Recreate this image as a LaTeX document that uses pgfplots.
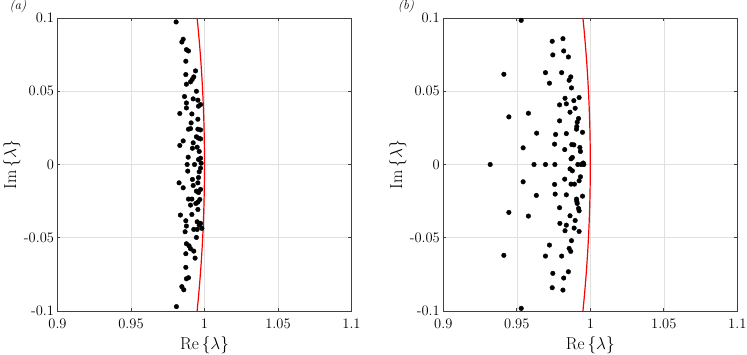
\documentclass[border=0pt]{standalone}
\usepackage{pgfplots}
\pgfplotsset{compat=1.18}

% eigenvalues, panel (a)
\pgfplotstableread{
re im
0.9807 0.0973
0.9855 0.0855
0.9846 0.0836
0.9877 0.0784
0.9891 0.0775
0.9873 0.0705
0.9939 0.0639
0.9873 0.0614
0.9927 0.0598
0.9916 0.0580
0.9905 0.0564
0.9877 0.0548
0.9945 0.0500
0.9864 0.0464
0.9923 0.0448
0.9955 0.0439
0.9877 0.0420
0.9973 0.0409
0.9959 0.0398
0.9877 0.0386
0.9832 0.0348
0.9914 0.0345
0.9955 0.0309
0.9909 0.0284
0.9905 0.0245
0.9891 0.0241
0.9955 0.0241
0.9973 0.0236
0.9945 0.0189
0.9959 0.0180
0.9973 0.0175
0.9855 0.0161
0.9832 0.0130
0.9923 0.0148
0.9918 0.0111
0.9950 0.0118
0.9964 0.0089
0.9889 0.0050
0.9973 0.0043
0.9959 0.0034
0.9977 0.0009
0.9882 0.0000
0.9932 0.0000
0.9973 -0.0025
0.9886 -0.0045
0.9964 -0.0050
0.9959 -0.0089
0.9918 -0.0102
0.9827 -0.0125
0.9855 -0.0159
0.9923 -0.0143
0.9955 -0.0125
0.9973 -0.0170
0.9945 -0.0182
0.9959 -0.0191
0.9891 -0.0236
0.9914 -0.0236
0.9968 -0.0239
0.9955 -0.0257
0.9905 -0.0277
0.9941 -0.0266
0.9955 -0.0307
0.9836 -0.0345
0.9914 -0.0341
0.9873 -0.0384
0.9950 -0.0391
0.9973 -0.0402
0.9964 -0.0414
0.9877 -0.0420
0.9982 -0.0436
0.9927 -0.0443
0.9868 -0.0459
0.9950 -0.0443
0.9945 -0.0498
0.9877 -0.0541
0.9895 -0.0555
0.9905 -0.0575
0.9927 -0.0591
0.9873 -0.0609
0.9936 -0.0639
0.9873 -0.0702
0.9877 -0.0780
0.9891 -0.0773
0.9846 -0.0834
0.9859 -0.0855
0.9809 -0.0970
}\eiga

% eigenvalues, panel (b)
\pgfplotstableread{
re im
0.9530 0.0984
0.9741 0.0841
0.9814 0.0859
0.9745 0.0748
0.9819 0.0775
0.9851 0.0734
0.9695 0.0627
0.9805 0.0627
0.9867 0.0598
0.9856 0.0575
0.9722 0.0555
0.9872 0.0523
0.9924 0.0457
0.9828 0.0452
0.9888 0.0436
0.9791 0.0407
0.9837 0.0414
0.9897 0.0384
0.9412 0.0616
0.9446 0.0325
0.9579 0.0350
0.9862 0.0357
0.9791 0.0298
0.9920 0.0314
0.9911 0.0289
0.9908 0.0259
0.9906 0.0241
0.9635 0.0214
0.9764 0.0205
0.9837 0.0211
0.9947 0.0220
0.9543 0.0114
0.9757 0.0139
0.9826 0.0102
0.9874 0.0136
0.9888 0.0134
0.9929 0.0116
0.9933 0.0089
0.9869 0.0039
0.9878 0.0048
0.9319 0.0000
0.9617 0.0000
0.9695 0.0000
0.9759 0.0000
0.9915 0.0000
0.9938 0.0000
0.9952 0.0010
0.9956 0.0000
0.9862 -0.0030
0.9878 -0.0043
0.9757 -0.0136
0.9826 -0.0100
0.9869 -0.0134
0.9892 -0.0134
0.9924 -0.0111
0.9933 -0.0084
0.9543 -0.0118
0.9633 -0.0211
0.9761 -0.0202
0.9837 -0.0207
0.9947 -0.0216
0.9906 -0.0236
0.9908 -0.0252
0.9911 -0.0266
0.9920 -0.0300
0.9924 -0.0316
0.9446 -0.0327
0.9579 -0.0352
0.9791 -0.0295
0.9862 -0.0350
0.9897 -0.0382
0.9793 -0.0402
0.9837 -0.0414
0.9828 -0.0452
0.9890 -0.0434
0.9924 -0.0457
0.9872 -0.0520
0.9722 -0.0550
0.9856 -0.0573
0.9867 -0.0593
0.9695 -0.0625
0.9805 -0.0625
0.9851 -0.0732
0.9745 -0.0743
0.9819 -0.0775
0.9741 -0.0841
0.9814 -0.0857
0.9412 -0.0620
0.9530 -0.0982
}\eigb

% unit circle near lambda = 1
\pgfplotstableread{
re im
0.99499 -0.10
0.99594 -0.09
0.99679 -0.08
0.99755 -0.07
0.99820 -0.06
0.99875 -0.05
0.99920 -0.04
0.99955 -0.03
0.99980 -0.02
0.99995 -0.01
1.00000 0.00
0.99995 0.01
0.99980 0.02
0.99955 0.03
0.99920 0.04
0.99875 0.05
0.99820 0.06
0.99755 0.07
0.99679 0.08
0.99594 0.09
0.99499 0.10
}\unitcirc

\pgfplotsset{
  eigax/.style={
    width=294pt, height=293pt, scale only axis,
    xmin=0.9, xmax=1.1, ymin=-0.1, ymax=0.1,
    xtick={0.9,0.95,1,1.05,1.1}, xticklabels={0.9,0.95,1,1.05,1.1},
    ytick={-0.1,-0.05,0,0.05,0.1}, yticklabels={-0.1,-0.05,0,0.05,0.1},
    grid=major, major grid style={black!12, line width=0.6pt},
    axis line style={black!75, line width=0.7pt},
    tick style={black!75, line width=0.7pt},
    tick align=inside, major tick length=3pt,
    tick label style={font=\fontsize{14.5}{16}\selectfont},
    label style={font=\fontsize{16}{18}\selectfont},
    xticklabel style={yshift=-4pt},
    xlabel={$\mathrm{Re}\left\{\lambda\right\}$},
    ylabel={$\mathrm{Im}\left\{\lambda\right\}$},
    xlabel style={at={(axis description cs:0.5,-0.116)}, anchor=center},
    ylabel style={at={(axis description cs:-0.155,0.5)}, anchor=center},
  },
  dots/.style={only marks, mark=*, mark size=2.3pt, black},
  circ/.style={red, line width=1.2pt, smooth, no marks},
}

\begin{document}
\begin{tikzpicture}
\useasboundingbox (-57.5pt,-43pt) rectangle (689.5pt,311pt);

\begin{axis}[eigax, name=pa, at={(0,0)}, anchor=south west]
\addplot[dots] table[x=re, y=im] {\eiga};
\addplot[circ] table[x=re, y=im] {\unitcirc};
\end{axis}

\begin{axis}[eigax, name=pb, at={(385.8pt,0)}, anchor=south west]
\addplot[dots] table[x=re, y=im] {\eigb};
\addplot[circ] table[x=re, y=im] {\unitcirc};
\end{axis}

\node[font=\fontsize{13}{15}\selectfont\itshape] at ([xshift=-39.5pt,yshift=12pt]pa.north west) {(a)};
\node[font=\fontsize{13}{15}\selectfont\itshape] at ([xshift=-37.3pt,yshift=12pt]pb.north west) {(b)};
\end{tikzpicture}
\end{document}
